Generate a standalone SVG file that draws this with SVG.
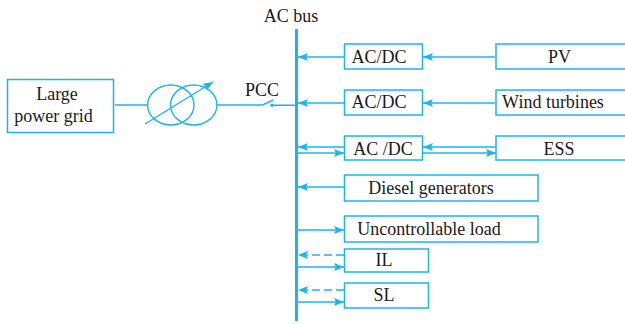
<svg xmlns="http://www.w3.org/2000/svg" width="625" height="324" viewBox="0 0 625 324">
<style>
.b{fill:#fff;stroke:#1db4ec;stroke-width:1.5}
.l{fill:none;stroke:#1db4ec;stroke-width:1.4}
.d{stroke-dasharray:8 4}
.t{font-family:"Liberation Serif",serif;font-size:18px;fill:#1a1a1a;text-anchor:middle}
</style>
<defs>
<marker id="a" markerUnits="userSpaceOnUse" markerWidth="11" markerHeight="9" refX="10" refY="4.500" orient="auto"><path d="M0 0.500L10 4.500L0 8.500L2 4.500Z" fill="#1db4ec"/></marker>
</defs>
<g id="connectors">
<path class="l" d="M115 105H147M217 105H262.500L273.500 100M272 105.300H296"/>
<path class="l" marker-end="url(#a)" d="M145 124L213 82"/>
<path d="M296.500 29V321" fill="none" stroke="#1db4ec" stroke-width="3"/>
<path class="l" marker-end="url(#a)" d="M344 57H298"/>
<path class="l" marker-end="url(#a)" d="M495 57H423"/>
<path class="l" marker-end="url(#a)" d="M344 103H298"/>
<path class="l" marker-end="url(#a)" d="M495 103H423"/>
<path class="l" marker-end="url(#a)" d="M344 147H298"/>
<path class="l" marker-end="url(#a)" d="M297 153H344"/>
<path class="l" marker-end="url(#a)" d="M496 147H423"/>
<path class="l" marker-end="url(#a)" d="M423 153H496"/>
<path class="l" marker-end="url(#a)" d="M344 187H298"/>
<path class="l" marker-end="url(#a)" d="M297 230H344"/>
<path class="l d" marker-end="url(#a)" d="M344 255H298"/>
<path class="l" marker-end="url(#a)" d="M297 267H344"/>
<path class="l d" marker-end="url(#a)" d="M344 290H298"/>
<path class="l" marker-end="url(#a)" d="M297 302H344"/>
</g>
<g id="transformer">
<ellipse class="l" cx="170.800" cy="105" rx="23.200" ry="20"/>
<ellipse class="l" cx="193.700" cy="105" rx="23.200" ry="20"/>
<circle cx="272" cy="105.300" r="1.700" fill="#1db4ec"/>
</g>
<g id="grid"><rect class="b" x="7.500" y="79.500" width="106" height="53"/><text class="t" x="57" y="100">Large</text><text class="t" x="53.500" y="122">power grid</text></g>
<g id="acbus-label"><text class="t" x="291" y="22">AC bus</text></g>
<g id="pcc-label"><text class="t" x="262" y="96">PCC</text></g>
<g id="conv1"><rect class="b" x="344.500" y="44" width="78" height="25"/><text class="t" x="379" y="63">AC/DC</text></g>
<g id="pv"><rect class="b" x="496" y="44" width="135" height="25"/><text class="t" x="559.500" y="63">PV</text></g>
<g id="conv2"><rect class="b" x="344.500" y="90" width="78" height="25"/><text class="t" x="379" y="108">AC/DC</text></g>
<g id="wind"><rect class="b" x="496" y="90" width="135" height="25"/><text class="t" x="553" y="108">Wind turbines</text></g>
<g id="conv3"><rect class="b" x="344.500" y="136" width="78" height="24"/><text class="t" x="383" y="155">AC /DC</text></g>
<g id="ess"><rect class="b" x="496" y="136" width="135" height="24"/><text class="t" x="559" y="155">ESS</text></g>
<g id="diesel"><rect class="b" x="344.500" y="175" width="193.500" height="26"/><text class="t" x="431" y="194">Diesel generators</text></g>
<g id="load"><rect class="b" x="344.500" y="216" width="193.500" height="26"/><text class="t" x="429" y="235">Uncontrollable load</text></g>
<g id="il"><rect class="b" x="344.500" y="249" width="84" height="23"/><text class="t" x="384" y="266">IL</text></g>
<g id="sl"><rect class="b" x="344.500" y="283" width="84" height="25"/><text class="t" x="384" y="301">SL</text></g>
</svg>
